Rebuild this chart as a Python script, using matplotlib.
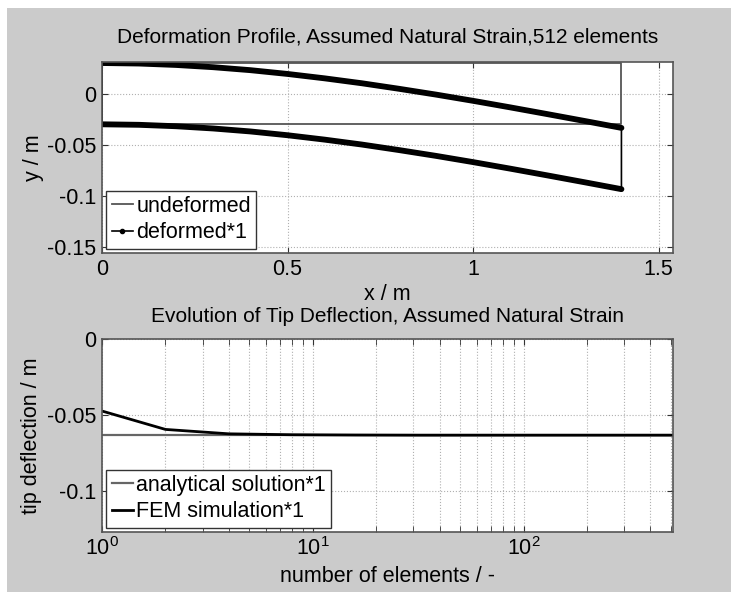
import matplotlib.pyplot as plt
from matplotlib.patches import Rectangle

# Beam geometry (undeformed outline)
beam_length = 1.4
beam_top, beam_bottom = 0.03, -0.03

# Deflection of the beam axis read along x
x_nodes = [0.0, 0.1, 0.2, 0.3, 0.4, 0.5, 0.6, 0.7, 0.8, 0.9, 1.0, 1.1, 1.2, 1.3, 1.4]
deflection = [0.0, -0.0005, -0.0019, -0.0041, -0.0070, -0.0107, -0.0150, -0.0198,
              -0.0252, -0.0309, -0.0370, -0.0434, -0.0500, -0.0567, -0.0635]

# Tip deflection convergence
n_elements = [1, 2, 4, 8, 16, 32, 64, 128, 256, 512]
fem_tip = [-0.0474, -0.0595, -0.0624, -0.0630, -0.0632, -0.0633, -0.0633, -0.0633, -0.0633, -0.0633]
analytical_tip = [-0.0633] * len(n_elements)

plt.rcParams['font.family'] = ['Liberation Sans', 'DejaVu Sans']
fs = 15.5

bg = '#cbcbcb'
fig = plt.figure(figsize=(7.31, 5.92), dpi=100, facecolor='white')
fig.patches.append(Rectangle((7 / 731, 0), 1, 1 - 8 / 592, transform=fig.transFigure,
                             facecolor=bg, edgecolor='none', zorder=-10))

W, H = 731, 592
def axes_px(l, t, r, b):
    return fig.add_axes([l / W, 1 - b / H, (r - l) / W, (b - t) / H])

def style(ax):
    ax.set_facecolor('white')
    ax.grid(True, which='both', linestyle=':', color='#b0b0b0', linewidth=0.8)
    ax.tick_params(direction='in', top=True, right=True, which='both', length=4, colors='#333333',
                   labelcolor='black', labelsize=fs, pad=4)
    for s in ax.spines.values():
        s.set_color('#555555')
        s.set_linewidth(1.2)

legend_kw = dict(loc='lower left', fontsize=fs, frameon=True, fancybox=False, framealpha=1,
                 edgecolor='#333333', handlelength=1.0, handletextpad=0.15, borderaxespad=0.2,
                 borderpad=0.25, labelspacing=0.25)

# --- top: deformation profile ---
ax1 = axes_px(102, 62, 673, 253)
style(ax1)
ux = [0, beam_length, beam_length, 0, 0]
uy = [beam_top, beam_top, beam_bottom, beam_bottom, beam_top]
ax1.plot(ux, uy, color='#555555', lw=1.3, label='undeformed')

top_y = [beam_top + d for d in deflection]
bot_y = [beam_bottom + d for d in deflection]
dx = x_nodes + x_nodes[::-1] + [0]
dy = top_y + bot_y[::-1] + [top_y[0]]
ax1.plot(dx, dy, color='black', lw=1.2, marker='.', markersize=2, label='deformed*1')
ax1.plot(x_nodes, top_y, color='black', lw=4.2, solid_capstyle='round')
ax1.plot(x_nodes, bot_y, color='black', lw=4.2, solid_capstyle='round')

ax1.set_xlim(0, 1.539)
ax1.set_ylim(-0.156, 0.031)
ax1.set_xticks([0, 0.5, 1, 1.5])
ax1.set_xticklabels(['0', '0.5', '1', '1.5'])
ax1.set_yticks([0, -0.05, -0.1, -0.15])
ax1.set_yticklabels(['0', '-0.05', '-0.1', '-0.15'])
ax1.set_title('Deformation Profile, Assumed Natural Strain,512 elements', fontsize=15, pad=14)
ax1.set_xlabel('x / m', fontsize=fs, labelpad=3)
ax1.set_ylabel('y / m', fontsize=fs, labelpad=2)
leg1 = ax1.legend(**legend_kw)
leg1.legend_handles[1].set_markersize(6)

# --- bottom: tip deflection ---
ax2 = axes_px(102, 339, 673, 532)
style(ax2)
ax2.plot(n_elements, analytical_tip, color='#666666', lw=1.6, label='analytical solution*1')
ax2.plot(n_elements, fem_tip, color='black', lw=2.0, label='FEM simulation*1')
ax2.set_xscale('log')
ax2.set_xlim(1, 512)
ax2.set_ylim(-0.127, 0)
ax2.set_yticks([0, -0.05, -0.1])
ax2.set_yticklabels(['0', '-0.05', '-0.1'])
ax2.set_title('Evolution of Tip Deflection, Assumed Natural Strain', fontsize=15, pad=12)
ax2.set_xlabel('number of elements / -', fontsize=fs, labelpad=4)
ax2.set_ylabel('tip deflection / m', fontsize=fs, labelpad=4)
ax2.legend(**legend_kw)

fig.savefig('out.png', dpi=100, facecolor=fig.get_facecolor())
